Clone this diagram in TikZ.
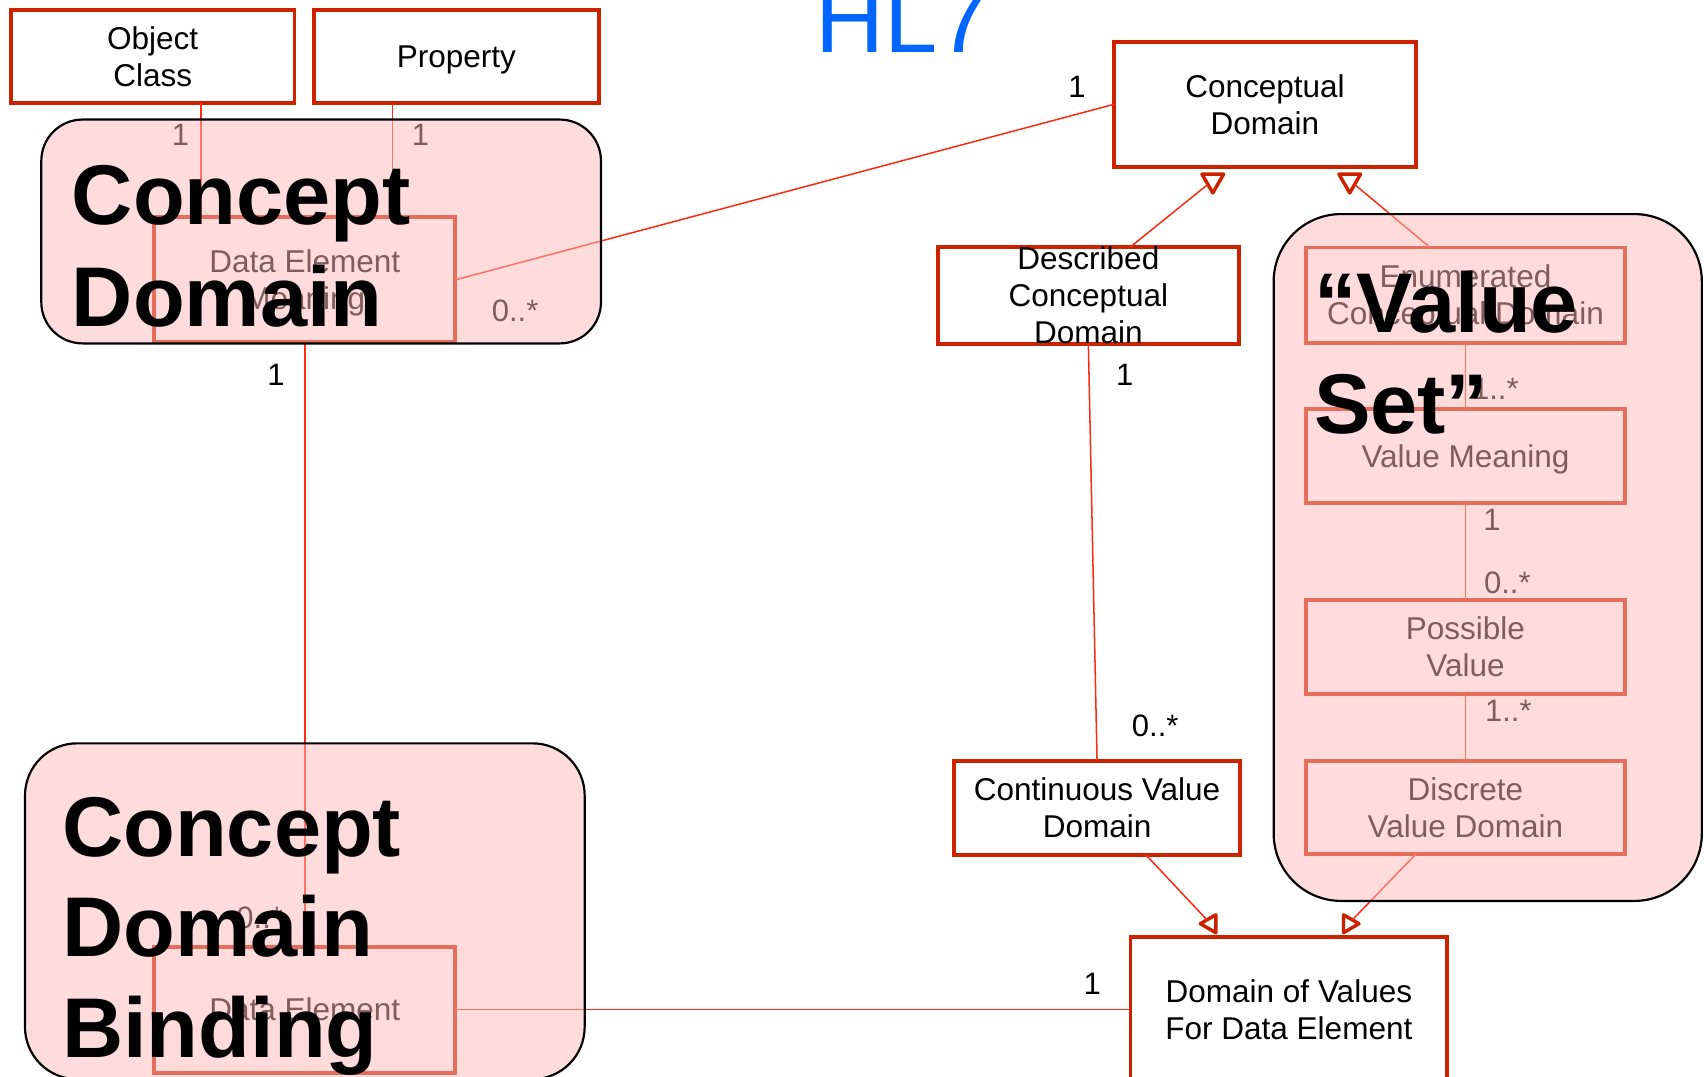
\documentclass[tikz,border=0pt]{standalone}
\usepackage{fontspec}
\setmainfont{Liberation Sans}
\usetikzlibrary{shapes.geometric}
\definecolor{boxred}{RGB}{204,34,0}
\definecolor{linkred}{RGB}{250,45,20}
\definecolor{setpink}{RGB}{255,185,185}
\definecolor{hlblue}{RGB}{0,102,255}
% keep a line's height but drop its descenders when centring box text
\newcommand\flatdepth[1]{\raisebox{0pt}[\height][0pt]{#1}}

\begin{document}
\begin{tikzpicture}[x=1pt,y=-1pt,
  classbox/.style={draw=boxred, line width=3.6pt, fill=white, inner sep=0pt, outer sep=0pt,
    align=center, font=\fontsize{29}{34}\selectfont},
  assoc/.style={draw=linkred, line width=1.4pt},
  mult/.style={inner sep=0pt, font=\fontsize{28.5}{34}\selectfont},
  genhead/.style={regular polygon, regular polygon sides=3, draw=boxred, line width=3.2pt,
    fill=white, inner sep=0pt, outer sep=0pt, line join=round},
  setregion/.style={draw=black, line width=2pt, fill=setpink, fill opacity=0.5, rounded corners=#1},
  bigword/.style={anchor=base west, inner sep=0pt, font=\fontsize{78}{93}\selectfont\bfseries},
]
\useasboundingbox (0,0) rectangle (1568,991);
\clip (0,0) rectangle (1568,991);

% heading
\node[anchor=base west, inner sep=0pt, text=hlblue, font=\fontsize{88}{100}\selectfont] (hl) at (750,48) {HL7};

% classes
\node[classbox, minimum width=261pt, minimum height=85pt] (oc) at (140.5,52) {Object\\Class};
\node[classbox, minimum width=262pt, minimum height=85pt] (prop) at (420,52) {\flatdepth{Property}};
\node[classbox, minimum width=278pt, minimum height=115pt] (cd) at (1164,96) {Conceptual\\Domain};
\node[classbox, minimum width=277pt, minimum height=115pt] (dem) at (280.5,257.5) {Data Element\\\smash{Meaning}};
\node[classbox, minimum width=277pt, minimum height=87pt] (dcd) at (1001.5,272) {Described\\Conceptual\\Domain};
\node[classbox, minimum width=263pt, minimum height=87pt] (cvd) at (1009.5,743.5) {Continuous Value\\Domain};
\node[classbox, minimum width=291.5pt, minimum height=133pt] (dov) at (1186,929) {Domain of Values\\For Data Element};
\node[classbox, minimum width=277pt, minimum height=116pt] (de) at (280.5,929) {Data Element};
\node[classbox, minimum width=293pt, minimum height=87.5pt] (ecd) at (1348.5,271.5) {Enumerated\\\smash{Conceptual Domain}};
\node[classbox, minimum width=293pt, minimum height=86.5pt] (vm) at (1348.5,419.5) {\flatdepth{Value Meaning}};
\node[classbox, minimum width=293pt, minimum height=86.5pt] (pv) at (1348.5,595.5) {Possible\\Value};
\node[classbox, minimum width=293pt, minimum height=85.5pt] (dvd) at (1348.5,743) {Discrete\\Value Domain};

% associations
\draw[assoc] ([xshift=44.5pt]oc.south) -- ([xshift=-95.5pt]dem.north);
\draw[assoc] ([xshift=-58.7pt]prop.south) -- ([xshift=80.8pt]dem.north);
\draw[assoc] (dem.east) -- (cd.west);
\draw[assoc] (dem.south) -- (de.north);
\draw[assoc] (de.east) -- (dov.west);
\draw[assoc] (dcd.south) -- (cvd.north);
\draw[assoc] (ecd.south) -- (vm.north);
\draw[assoc] (vm.south) -- (pv.north);
\draw[assoc] (pv.south) -- (dvd.north);

% generalisation heads
\node[genhead, minimum size=23pt, shape border rotate=180] (gh1) at (1116,166) {};
\node[genhead, minimum size=23pt, shape border rotate=180] (gh2) at (1242,166) {};
\node[genhead, minimum size=19pt, shape border rotate=90] (gh3) at (1114,850) {};
\node[genhead, minimum size=19pt, shape border rotate=270] (gh4) at (1241,850) {};
\draw[assoc] ([xshift=38.5pt]dcd.north) -- (gh1);
\draw[assoc] ([xshift=-32.5pt]ecd.north) -- (gh2);
\draw[assoc] ([xshift=45.3pt]cvd.south) -- (gh3);
\draw[assoc] ([xshift=-45.5pt]dvd.south) -- (gh4);

% multiplicities
\node[mult] (m-oc) at (166,124) {1};
\node[mult] (m-prop) at (387,124) {1};
\node[mult] (m-demcd) at (474,286) {0..*};
\node[mult] (m-cd) at (991,80) {1};
\node[mult] (m-dem) at (254,345) {1};
\node[mult] (m-de) at (239,845) {0..*};
\node[mult] (m-dcd) at (1035,345) {1};
\node[mult] (m-cvd) at (1063,668) {0..*};
\node[mult] (m-dov) at (1005,905) {1};
\node[mult] (m-ecd) at (1376,358) {1..*};
\node[mult] (m-vm) at (1373,478) {1};
\node[mult] (m-pv1) at (1387,536) {0..*};
\node[mult] (m-pv2) at (1388,654) {1..*};

% translucent groupings
\draw[setregion=38pt] (38,110) rectangle (553,316);
\draw[setregion=48pt] (23,684) rectangle (538,993);
\draw[setregion=62pt] (1172,197) rectangle (1566,829);

% group titles
\node[bigword] (cd-a) at (66,207) {Concept};
\node[bigword] (cd-b) at (66,300) {Domain};
\node[bigword] (cdb-a) at (57,788) {Concept};
\node[bigword] (cdb-b) at (57,880.5) {Domain};
\node[bigword] (cdb-c) at (57,973) {Binding};
\node[bigword] (vs-a) at (1209,306) {“Value};
\node[bigword] (vs-b) at (1209,399) {Set”};
\end{tikzpicture}
\end{document}
